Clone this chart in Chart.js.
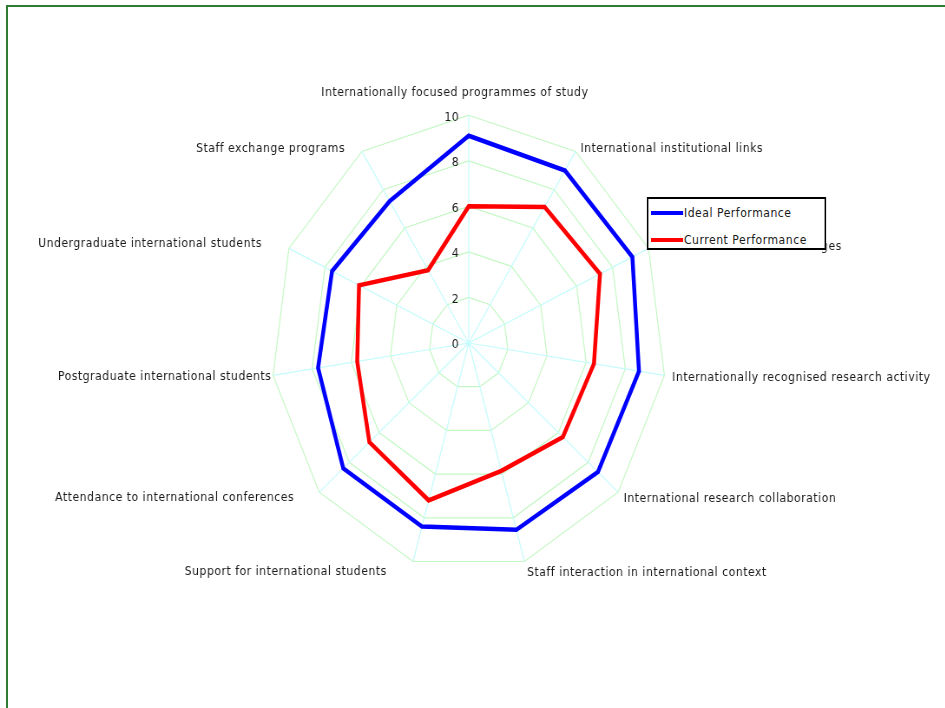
<!DOCTYPE html>
<html>
<head>
<meta charset="utf-8">
<title>Internationalisation radar</title>
<script src="https://cdn.jsdelivr.net/npm/chart.js@4.4.0/dist/chart.umd.min.js"></script>
<style>
  html, body { margin: 0; padding: 0; background: #fff; width: 945px; height: 708px; overflow: hidden; }
  #frame { position: absolute; left: 6px; top: 5px; width: 1000px; height: 800px; border: 2px solid #2e7d32; }
  /* the original picture is squeezed horizontally, so the whole drawing is too */
  #squash { position: absolute; left: 0; top: 0; width: 1300px; height: 708px; transform: scaleX(0.868); transform-origin: 0 0; }
  #wrap { position: absolute; left: -60px; top: 82px; }
  #legend { position: absolute; left: 745px; top: 197px; width: 203px; height: 49px; background: #fff; border: 2px solid #000; font: 12.5px "DejaVu Sans"; letter-spacing: 0.6px; color: #1a1a1a; }
  .item { position: absolute; left: 0; height: 14px; line-height: 14px; white-space: nowrap; }
  .swatch { position: absolute; left: 3px; top: 5px; width: 37px; height: 4px; }
  .text { position: absolute; left: 41px; top: 0; }
</style>
</head>
<body>
<div id="frame"></div>
<div id="squash">
  <div id="wrap"><canvas id="radar-chart" width="1200" height="502"></canvas></div>
  <div id="legend"></div>
</div>
<script>
const categories = [
  'Internationally focused programmes of study',
  'International institutional links',
  'International student exchanges',
  'Internationally recognised research activity',
  'International research collaboration',
  'Staff interaction in international context',
  'Support for international students',
  'Attendance to international conferences',
  'Postgraduate international students',
  'Undergraduate international students',
  'Staff exchange programs'
];
const seriesNames = ['Ideal Performance', 'Current Performance'];
const seriesColors = ['#0000ff', '#ff0000'];
const idealValues = [9.1, 9.0, 9.1, 8.7, 8.65, 8.55, 8.4, 8.4, 7.7, 7.6, 7.4];
const currentValues = [6.0, 7.1, 7.3, 6.4, 6.3, 5.85, 7.2, 6.65, 5.7, 6.1, 3.8];
const tickValues = [0, 2, 4, 6, 8, 10];

// label placement, tuned by eye: distance from the outer ring, and
// blank space before / after the text to nudge it sideways
const labelPads = [22, 2, 1.5, 9, 8.5, 11, 10, 8, 2, 9, 2];
const labelLead = [0, 1, 0, 0, 0, 0, 0, 0, 0, 0, 0];
const labelTrail = [7, 0, 0, 0, 0, 0, 6, 5, 0, 5, 4];

const labelFont = '"DejaVu Sans"';
const spacing = '0.6px';

// wider letter spacing, like the original rendering
const letterSpacing = {
  id: 'letterSpacing',
  afterInit(chart) { chart.ctx.letterSpacing = spacing; },
  beforeUpdate(chart) { chart.ctx.letterSpacing = spacing; },
  beforeDraw(chart) { chart.ctx.letterSpacing = spacing; }
};

// tick numbers sit just left of the top axis, 0 included
const tickLabels = {
  id: 'tickLabels',
  beforeDatasetsDraw(chart) {
    const r = chart.scales.r;
    const ctx = chart.ctx;
    ctx.save();
    ctx.font = '12.5px ' + labelFont;
    ctx.fillStyle = '#1a1a1a';
    ctx.textAlign = 'right';
    ctx.textBaseline = 'middle';
    tickValues.forEach(v => {
      const d = r.getDistanceFromCenterForValue(v);
      ctx.fillText(String(v), r.xCenter - 11, r.yCenter - d + 2);
    });
    ctx.restore();
  }
};

function lineSet(i, values) {
  return {
    label: seriesNames[i],
    data: values,
    borderColor: seriesColors[i],
    backgroundColor: 'transparent',
    borderWidth: 4.5,
    fill: false,
    pointRadius: 0,
    pointHoverRadius: 0
  };
}

const ctx = document.getElementById('radar-chart').getContext('2d');
new Chart(ctx, {
  type: 'radar',
  data: {
    labels: categories,
    datasets: [lineSet(0, idealValues), lineSet(1, currentValues)]
  },
  options: {
    responsive: false,
    animation: false,
    plugins: { legend: { display: false }, tooltip: { enabled: false } },
    elements: { line: { tension: 0 } },
    scales: {
      r: {
        min: 0,
        max: 10,
        ticks: { display: false, stepSize: 2 },
        grid: { color: '#c4f7c4', lineWidth: 1.2 },
        angleLines: { color: '#c4fbfb', lineWidth: 1.2 },
        pointLabels: {
          // tiny line height keeps each label centred on its anchor point
          font: { family: 'DejaVu Sans', size: 12.5, lineHeight: 0.1 },
          color: '#1a1a1a',
          padding: c => labelPads[c.index],
          callback: (label, i) => ' '.repeat(labelLead[i]) + label + ' '.repeat(labelTrail[i])
        }
      }
    }
  },
  plugins: [letterSpacing, tickLabels]
});

// legend box drawn over the chart, like the original
const legend = document.getElementById('legend');
seriesNames.forEach((name, i) => {
  const item = document.createElement('div');
  item.className = 'item';
  item.style.top = (7 + i * 27) + 'px';
  item.innerHTML = '<span class="swatch" style="background:' + seriesColors[i] + '"></span><span class="text">' + name + '</span>';
  legend.appendChild(item);
});
</script>
</body>
</html>
